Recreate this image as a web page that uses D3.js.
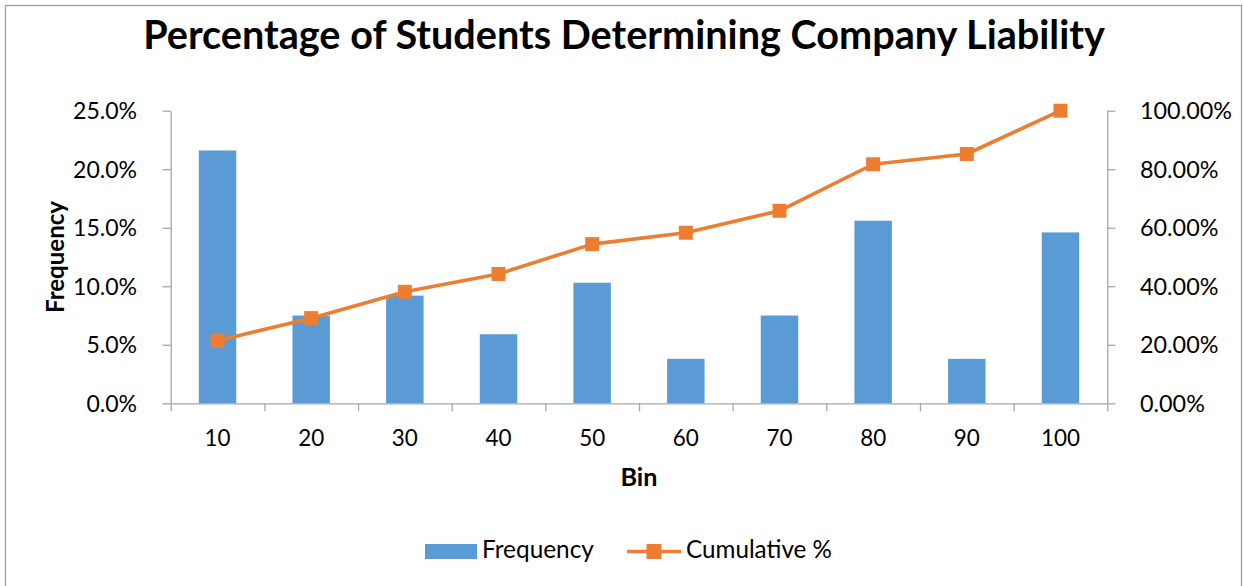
<!DOCTYPE html>
<html>
<head>
<meta charset="utf-8">
<script src="https://cdn.jsdelivr.net/npm/d3@7"></script>
<style>
  html, body { margin: 0; padding: 0; background: #fff; }
  svg { display: block; }
  text { font-family: Lato, "Open Sans", sans-serif; fill: #000; }
</style>
</head>
<body>
<svg id="chart" width="1243" height="586"></svg>
<script>
// Bin labels and the two series (percent of students)
const bins = ["10", "20", "30", "40", "50", "60", "70", "80", "90", "100"];
const frequency = [21.6, 7.5, 9.2, 5.9, 10.3, 3.8, 7.5, 15.6, 3.8, 14.6];
const cumulative = [21.4, 29.1, 38.1, 44.2, 54.4, 58.3, 65.8, 81.7, 85.2, 100];
const leftTicks = [0, 5, 10, 15, 20, 25];
const rightTicks = [0, 20, 40, 60, 80, 100];

const titleText = "Percentage of Students Determining Company Liability";
const blue = "#5B9BD5", orange = "#ED7D31", axisGrey = "#a6a6a6";

const svg = d3.select("#chart");
const W = 1243, H = 586;
const plot = { left: 170.7, right: 1107.3, top: 110.7, bottom: 403.3 };

// Set a font size so that the text spans the given width
function fitWidth(sel, target) {
  const base = 40;
  sel.style("font-size", base + "px");
  const w = sel.node().getComputedTextLength();
  const size = base * target / w;
  sel.style("font-size", size + "px");
  return size;
}

// Chart-area frame
svg.append("rect")
  .attr("x", 5.5).attr("y", 5.5)
  .attr("width", 1236).attr("height", H + 20)
  .attr("fill", "#fff").attr("stroke", "#a0a0a0").attr("stroke-width", 1.3);

// Scales
const x = d3.scaleBand().domain(bins).range([plot.left, plot.right])
  .paddingInner(0.6).paddingOuter(0.3);
const xEdge = d3.scaleLinear().domain([0, bins.length]).range([plot.left, plot.right]);
const yL = d3.scaleLinear().domain([0, 25]).range([plot.bottom, plot.top]);
const yR = d3.scaleLinear().domain([0, 100]).range([plot.bottom, plot.top]);

// Bars
svg.append("g").selectAll("rect").data(frequency).join("rect")
  .attr("x", (d, i) => x(bins[i]))
  .attr("y", d => yL(d))
  .attr("width", x.bandwidth())
  .attr("height", d => yL(0) - yL(d))
  .attr("fill", blue);

// Axes
function styleAxis(g) {
  g.select(".domain").attr("stroke", axisGrey).attr("stroke-width", 1.3);
  g.selectAll(".tick line").attr("stroke", axisGrey).attr("stroke-width", 1.3);
}

const gL = svg.append("g").attr("transform", `translate(${plot.left},0)`)
  .call(d3.axisLeft(yL).tickValues(leftTicks).tickSize(8).tickSizeOuter(0)
    .tickPadding(25.7).tickFormat(d => d3.format(".1f")(d) + "%"))
  .call(styleAxis);

const gR = svg.append("g").attr("transform", `translate(${plot.right},0)`)
  .call(d3.axisRight(yR).tickValues(rightTicks).tickSize(8).tickSizeOuter(0)
    .tickPadding(24.7).tickFormat(d => d3.format(".2f")(d) + "%"))
  .call(styleAxis);

// Category boundary ticks along the bottom
const gEdge = svg.append("g").attr("transform", `translate(0,${plot.bottom})`)
  .call(d3.axisBottom(xEdge).ticks(bins.length).tickSize(8).tickSizeOuter(0).tickFormat(""))
  .call(styleAxis);

// Category labels
const gB = svg.append("g").attr("transform", `translate(0,${plot.bottom})`)
  .call(d3.axisBottom(x).tickSize(0).tickPadding(0));
gB.select(".domain").remove();
gB.selectAll(".tick text").attr("y", 0).attr("dy", 0)
  .attr("transform", "translate(0,42.7)");

// Tick label fonts
const lSize = fitWidth(gL.selectAll(".tick text").filter(d => d === 25), 64);
gL.selectAll(".tick text").style("font-size", lSize + "px").attr("dy", "0.35em");
const rSize = fitWidth(gR.selectAll(".tick text").filter(d => d === 100), 92);
gR.selectAll(".tick text").style("font-size", rSize + "px").attr("dy", "0.35em");
const bSize = fitWidth(gB.selectAll(".tick text").filter(d => d === "100"), 39);
gB.selectAll(".tick text").style("font-size", bSize + "px");
svg.selectAll(".tick text").attr("fill", "#000").style("font-family", "Lato, sans-serif");

// Cumulative line with square markers
const cx = (d, i) => x(bins[i]) + x.bandwidth() / 2;
const line = d3.line().x(cx).y(d => yR(d));
svg.append("path").datum(cumulative)
  .attr("d", line).attr("fill", "none")
  .attr("stroke", orange).attr("stroke-width", 3.6).attr("stroke-linejoin", "round");
const mk = 14;
svg.append("g").selectAll("rect").data(cumulative).join("rect")
  .attr("x", (d, i) => cx(d, i) - mk / 2)
  .attr("y", d => yR(d) - mk / 2)
  .attr("width", mk).attr("height", mk)
  .attr("fill", orange);

// Title
const title = svg.append("text").attr("x", 624).attr("y", 49)
  .attr("text-anchor", "middle").style("font-weight", "bold").text(titleText);
fitWidth(title, 962);

// Axis titles
const yTitle = svg.append("text")
  .attr("transform", `translate(64,${(plot.top + plot.bottom) / 2}) rotate(-90)`)
  .attr("text-anchor", "middle").style("font-weight", "bold").text("Frequency");
fitWidth(yTitle, 112);

const xTitle = svg.append("text").attr("x", 639).attr("y", 486)
  .attr("text-anchor", "middle").style("font-weight", "bold").text("Bin");
fitWidth(xTitle, 37);

// Legend
const lg = svg.append("g");
lg.append("rect").attr("x", 425).attr("y", 544).attr("width", 52).attr("height", 15).attr("fill", blue);
const t1 = lg.append("text").attr("x", 482).attr("y", 558).text("Frequency");
fitWidth(t1, 112);
lg.append("line").attr("x1", 627).attr("x2", 681).attr("y1", 551.5).attr("y2", 551.5)
  .attr("stroke", orange).attr("stroke-width", 3.6);
lg.append("rect").attr("x", 654 - 7.5).attr("y", 551.5 - 7.5).attr("width", 15).attr("height", 15).attr("fill", orange);
const t2 = lg.append("text").attr("x", 686).attr("y", 558).text("Cumulative %");
fitWidth(t2, 146);
</script>
</body>
</html>
